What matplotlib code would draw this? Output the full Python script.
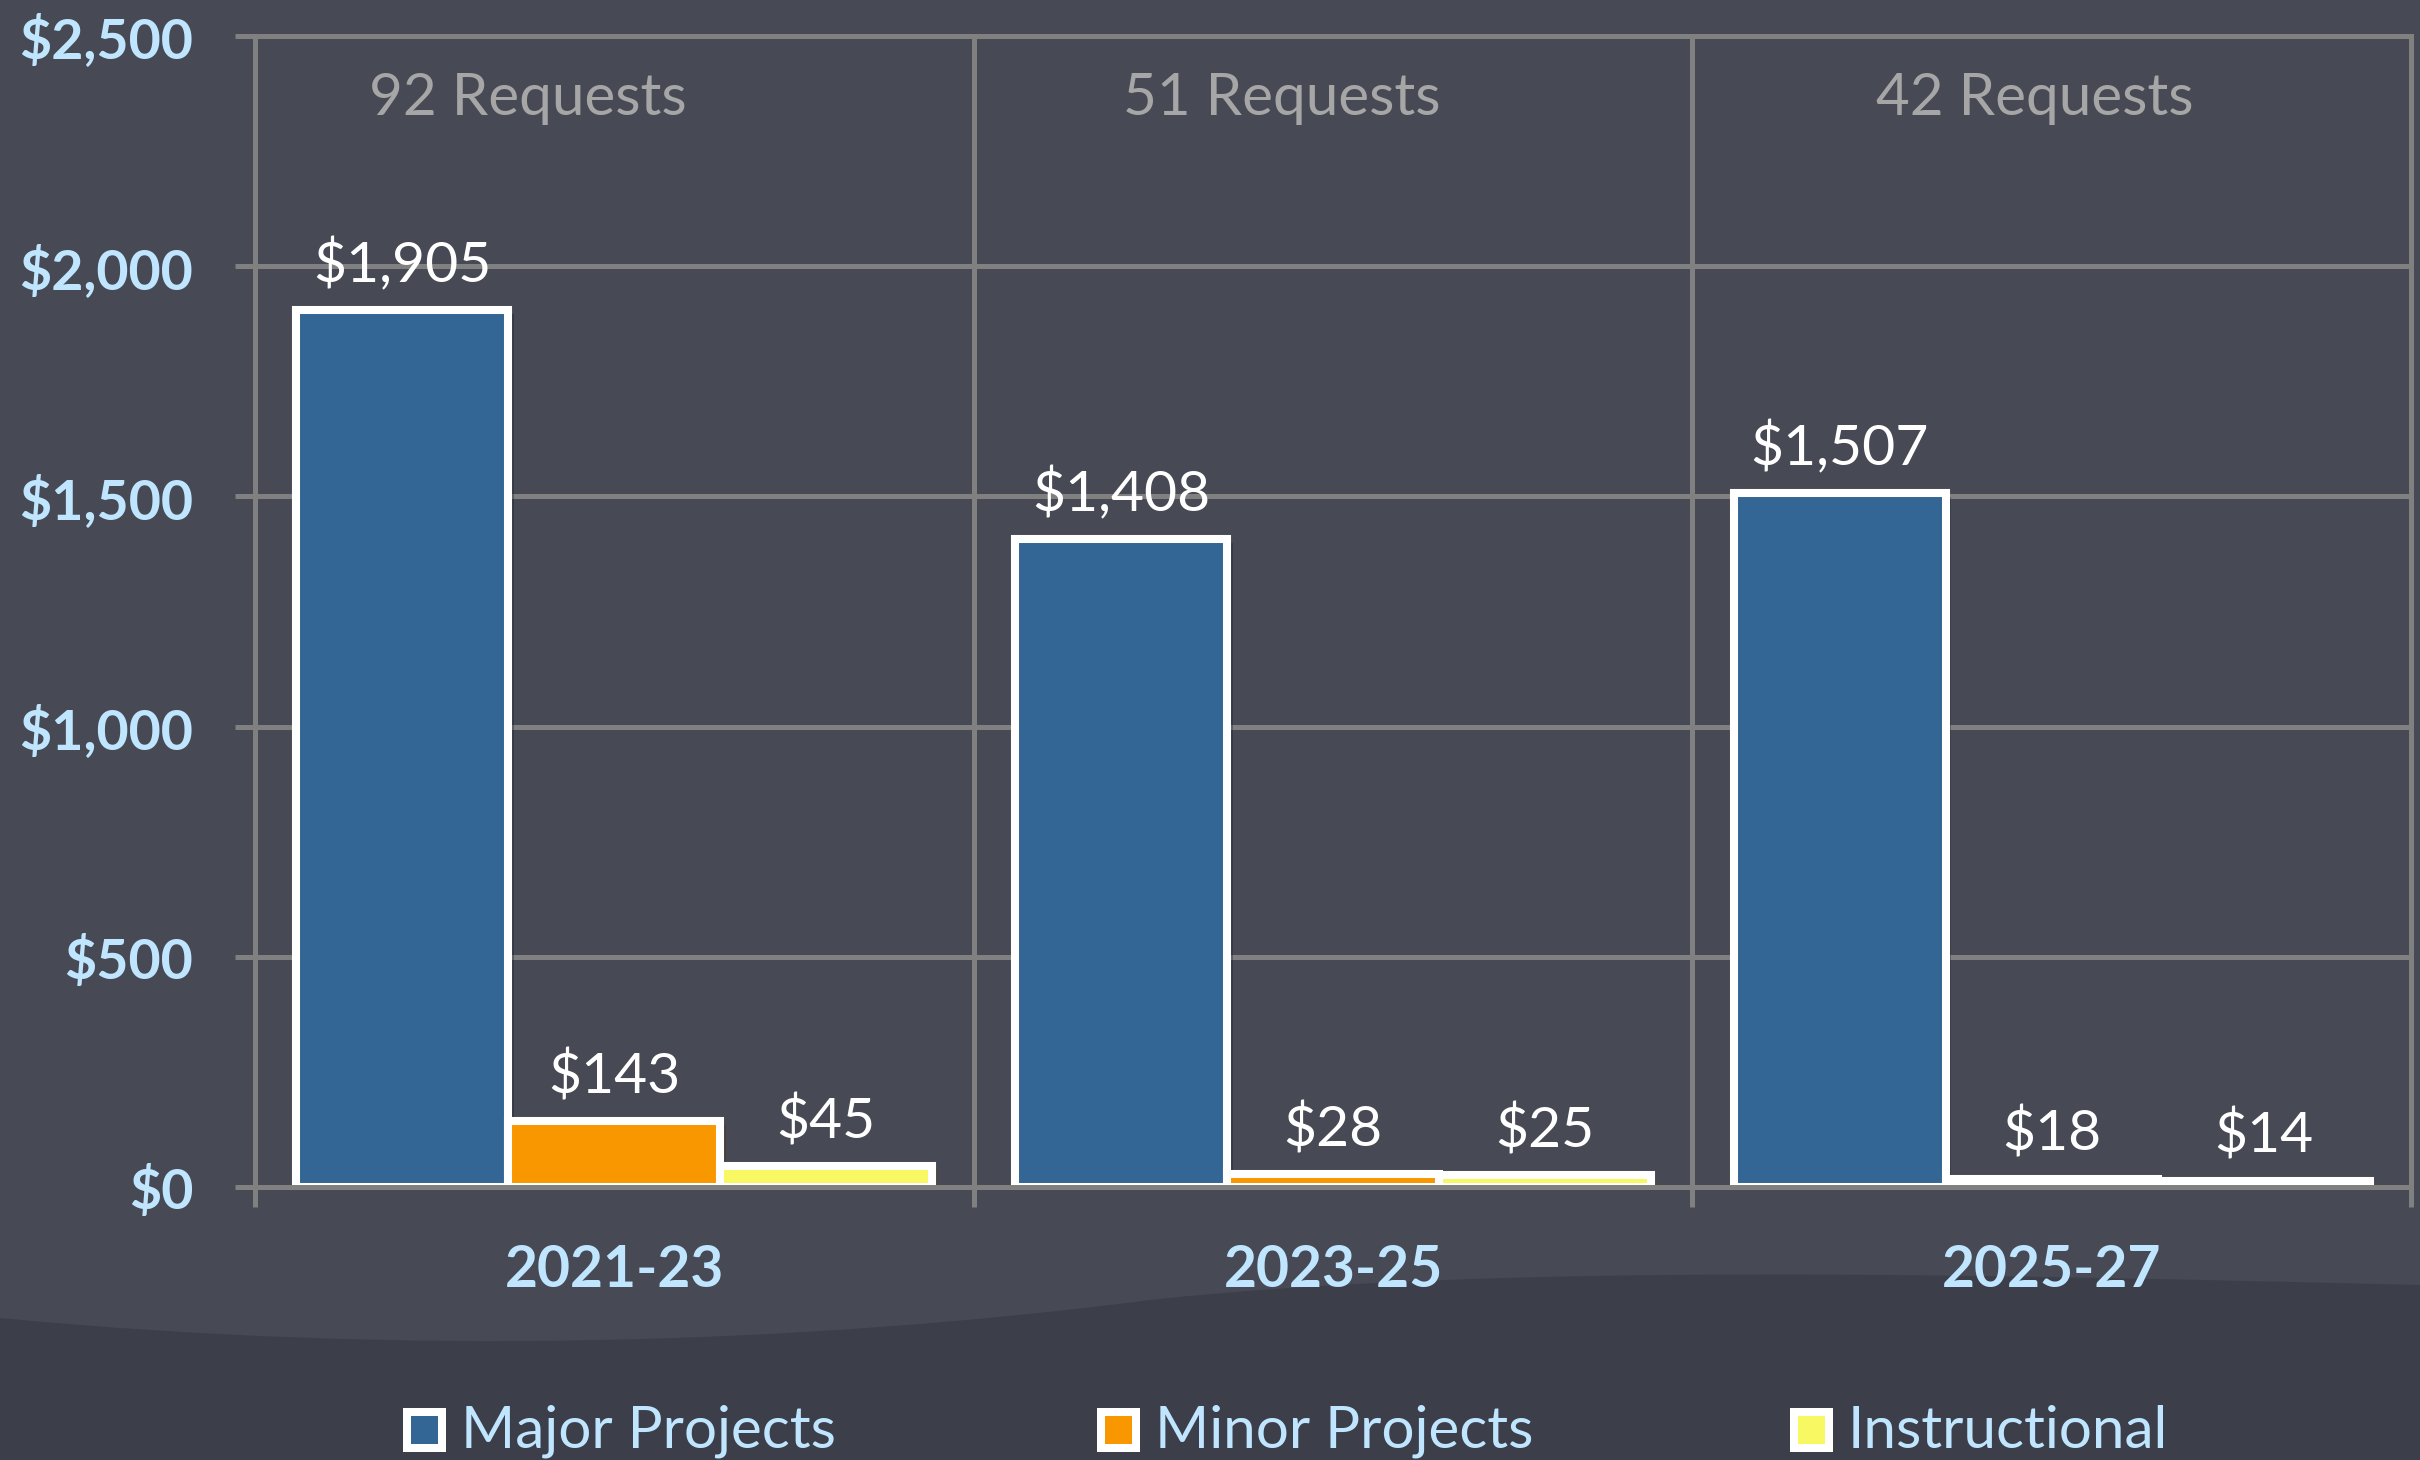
import matplotlib
matplotlib.use("Agg")
import matplotlib.pyplot as plt
from matplotlib.patches import Rectangle, PathPatch
from matplotlib.path import Path
import matplotlib.patheffects as pe
import numpy as np

# ---------------- data ----------------
categories = ["2021-23", "2023-25", "2025-27"]
series_names = ["Major Projects", "Minor Projects", "Instructional"]
major = [1905, 1408, 1507]
minor = [143, 28, 18]
instructional = [45, 25, 14]
request_labels = ["92 Requests", "51 Requests", "42 Requests"]
y_ticks = [0, 500, 1000, 1500, 2000, 2500]
y_tick_labels = ["$0", "$500", "$1,000", "$1,500", "$2,000", "$2,500"]

# ---------------- style ----------------
W, H = 2420, 1460
BG = "#474A54"
BG_DARK = "#3C3F4A"
GRID = "#808080"
LBLUE = "#C0E6FF"
REQ_GRAY = "#A6A6A6"
colors = ["#336595", "#F99700", "#F8F862"]
FONT = "Lato"

plt.rcParams["font.family"] = [FONT, "DejaVu Sans"]

fig = plt.figure(figsize=(W / 100, H / 100), dpi=100)
fig.patch.set_facecolor(BG)


def fx(px):
    return px / W


def fy(py):
    return 1 - py / H


# background swoosh (darker lower region)
verts = [
    (fx(0), fy(1318)),
    (fx(400), fy(1356)), (fx(800), fy(1345)), (fx(1150), fy(1300)),
    (fx(1500), fy(1262)), (fx(2000), fy(1275)), (fx(2420), fy(1285)),
    (fx(2420), fy(1460)),
    (fx(0), fy(1460)),
    (fx(0), fy(1318)),
]
codes = [Path.MOVETO,
         Path.CURVE4, Path.CURVE4, Path.CURVE4,
         Path.CURVE4, Path.CURVE4, Path.CURVE4,
         Path.LINETO, Path.LINETO, Path.CLOSEPOLY]
fig.patches.append(PathPatch(Path(verts, codes), transform=fig.transFigure,
                             facecolor=BG_DARK, edgecolor="none", zorder=-10))

# ---------------- axes ----------------
ax = fig.add_axes([fx(255), fy(1187), (2411 - 255) / W, (1187 - 36) / H])
ax.set_facecolor("none")
ax.set_xlim(-0.5, 2.5)
ax.set_ylim(0, 2500)

x = np.arange(len(categories))
width = 0.295
all_series = [major, minor, instructional]
for i, (vals, name, col) in enumerate(zip(all_series, series_names, colors)):
    xs = x + (i - 1) * width
    bars = ax.bar(xs, vals, width, color=col, edgecolor="white", linewidth=5.8,
                  zorder=2, label=name)
    for b in bars:
        b.set_path_effects([pe.SimplePatchShadow(offset=(4, -3), alpha=0.35),
                            pe.Normal()])
    for xi, v in zip(xs, vals):
        ax.annotate(f"${v:,}", (xi, v), xytext=(0, 20), textcoords="offset points",
                    ha="center", va="baseline", color="white", fontsize=41,
                    family=FONT, zorder=4)

# request counts
request_x = [-0.121, 0.928, 1.976]
for rx, lab in zip(request_x, request_labels):
    ax.text(rx, 2328, lab, ha="center", va="baseline", color=REQ_GRAY,
            fontsize=42, family=FONT)

# spines
for sp in ax.spines.values():
    sp.set_color(GRID)
    sp.set_linewidth(3.6)
    sp.set_zorder(3)

# y axis
ax.set_yticks(y_ticks)
ax.set_yticklabels(y_tick_labels, fontweight="bold", color=LBLUE, fontsize=40,
                   family=FONT)
ax.tick_params(axis="y", length=14.4, width=3.6, color=GRID, pad=30)
ax.yaxis.grid(True, color=GRID, linewidth=3.6)
ax.set_axisbelow(True)

# x axis
ax.set_xticks(x)
ax.set_xticklabels(categories, fontweight="bold", color=LBLUE, fontsize=41,
                   family=FONT)
ax.tick_params(axis="x", which="major", length=0, pad=41)
ax.set_xticks([-0.5, 0.5, 1.5, 2.5], minor=True)
ax.tick_params(axis="x", which="minor", length=14.4, width=3.6, color=GRID)
ax.xaxis.grid(True, which="minor", color=GRID, linewidth=3.6)
ax.xaxis.grid(False, which="major")

# ---------------- legend ----------------
legend_box_left = [403, 1097, 1790]
for bx, name, col in zip(legend_box_left, series_names, colors):
    fig.patches.append(Rectangle((fx(bx + 4), fy(1448)), 35 / W, 36 / H,
                                 transform=fig.transFigure, facecolor=col,
                                 edgecolor="white", linewidth=5.76))
    fig.text(fx(bx + 58), fy(1448), name, ha="left", va="baseline",
             color=LBLUE, fontsize=42, family=FONT)

fig.savefig("out.png", dpi=100, facecolor=BG)
